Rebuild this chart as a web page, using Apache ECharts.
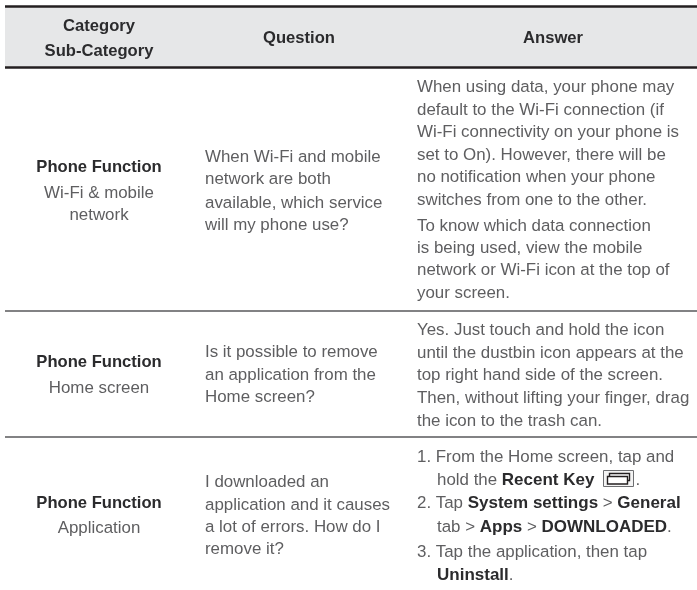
<!DOCTYPE html>
<html><head><meta charset="utf-8">
<style>html,body{margin:0;padding:0;background:#fff}#c{width:697px;height:590px}</style>
<script src="https://cdn.jsdelivr.net/npm/echarts@6/dist/echarts.min.js"></script>
</head><body><div id="c"></div>
<script>
const headers = [['Category','Sub-Category'],['Question'],['Answer']];
const categories = ['Phone Function','Phone Function','Phone Function'];
const subCategories = [['Wi-Fi & mobile','network'],['Home screen'],['Application']];
const questions = [
 ['When Wi-Fi and mobile','network are both','available, which service','will my phone use?'],
 ['Is it possible to remove','an application from the','Home screen?'],
 ['I downloaded an','application and it causes','a lot of errors. How do I','remove it?']
];
const answers = [
 [[0,'When using data, your phone may'],[0,'default to the Wi-Fi connection (if'],[0,'Wi-Fi connectivity on your phone is'],[0,'set to On). However, there will be'],[0,'no notification when your phone'],[0,'switches from one to the other.'],[0,'To know which data connection'],[0,'is being used, view the mobile'],[0,'network or Wi-Fi icon at the top of'],[0,'your screen.']],
 [[0,'Yes. Just touch and hold the icon'],[0,'until the dustbin icon appears at the'],[0,'top right hand side of the screen.'],[0,'Then, without lifting your finger, drag'],[0,'the icon to the trash can.']],
 [[0,'1. From the Home screen, tap and'],[20,'hold the {b|Recent Key}'],[0,'2. Tap {b|System settings} > {b|General}'],[20,'tab > {b|Apps} > {b|DOWNLOADED}.'],[0,'3. Tap the application, then tap'],[20,'{b|Uninstall}.']]
];
const answerYs = [[87,110,132,155,177,200,226,248,270,293],[330,353,375,398,421],[457,480,503,527,552,575]];
const questionYs = [[157,179,203,225],[352,375,397],[482,505,527,549]];
const categoryYs = [167,362,503];
const subYs = [[193,215],[388],[528]];
const ruleY = [311,437];
const FS = 16.9, FF = '"Liberation Sans", Arial, sans-serif';
const INK = '#5e5e60', DARK = '#2b2b2d';
const BF = 'bold 16.6px '+FF, BF2 = 'bold 17px '+FF;
const g = [];
g.push({type:'rect',shape:{x:5,y:7,width:692,height:60},style:{fill:'#e6e7e8'}});
[6.5,67.5].forEach(y=>g.push({type:'line',shape:{x1:5,y1:y,x2:697,y2:y},style:{stroke:'#231f20',lineWidth:2.4}}));
ruleY.forEach(y=>g.push({type:'line',shape:{x1:5,y1:y,x2:697,y2:y},style:{stroke:'#58595b',lineWidth:1.3}}));
function txt(x,y,t,o){g.push({type:'text',x,y,style:Object.assign({text:t,font:FS+'px '+FF,fill:INK,align:'left',verticalAlign:'middle',rich:{b:{font:BF2,fill:DARK}}},o||{})});}
const hdr={font:BF,fill:DARK,align:'center'};
const colX=[99,299,553];
txt(colX[0],26,headers[0][0],hdr);txt(colX[0],51,headers[0][1],hdr);
txt(colX[1],38,headers[1][0],hdr);txt(colX[2],38,headers[2][0],hdr);
categories.forEach((c,i)=>{
  txt(colX[0],categoryYs[i],c,hdr);
  subCategories[i].forEach((s,j)=>txt(colX[0],subYs[i][j],s,{align:'center'}));
  questions[i].forEach((s,j)=>txt(205,questionYs[i][j],s));
  answers[i].forEach((a,j)=>txt(417+a[0],answerYs[i][j],a[1]));
});
g.push({type:'rect',shape:{x:603.5,y:470.5,width:30,height:16},style:{fill:'#f4f4f4',stroke:'#6d6e71',lineWidth:1}});
g.push({type:'rect',shape:{x:609.5,y:473.5,width:20,height:7},style:{fill:'#fff',stroke:'#231f20',lineWidth:1.4}});
g.push({type:'rect',shape:{x:607.5,y:476.5,width:20,height:7.5},style:{fill:'#fff',stroke:'#231f20',lineWidth:1.4}});
txt(635.5,480,'.');
const chart=echarts.init(document.getElementById('c'),null,{renderer:'canvas'});
chart.setOption({animation:false,backgroundColor:'#fff',graphic:{elements:g}});
</script></body></html>
